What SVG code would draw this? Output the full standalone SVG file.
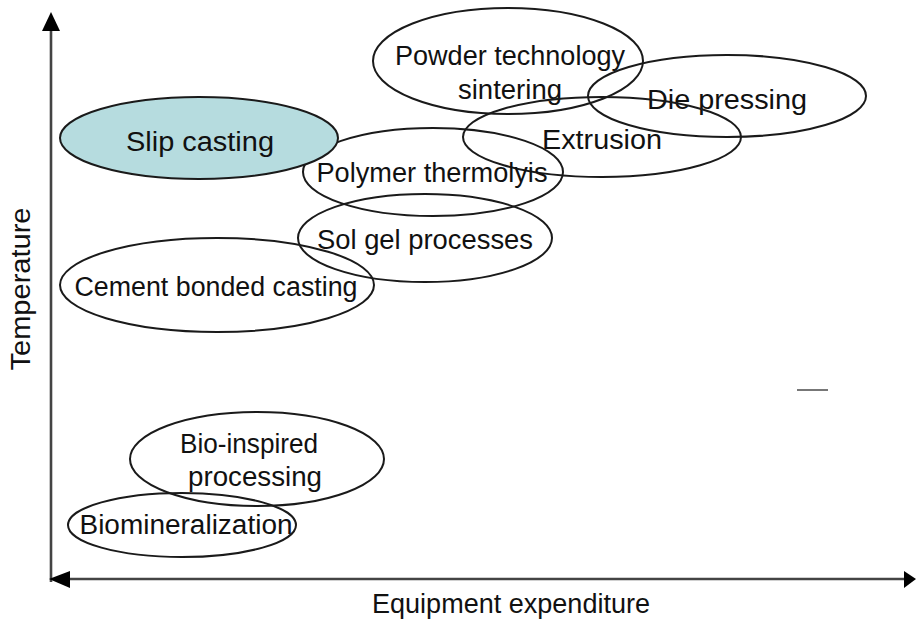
<svg xmlns="http://www.w3.org/2000/svg" width="916" height="624" viewBox="0 0 916 624">
  <style>
    .oval { fill: none; stroke: #1a1a1a; stroke-width: 2; }
    .oval-fill { fill: #b6dcdf; stroke: #1a1a1a; stroke-width: 2; }
    .lbl { font-family: "Liberation Sans", Arial, sans-serif; font-size: 27px; fill: #111; text-anchor: middle; }
    .axis { stroke: #444; stroke-width: 2.6; fill: none; }
    .head { fill: #000; }
  </style>
  <rect width="916" height="624" fill="#fff"/>

  <!-- axes -->
  <g id="axes">
    <line class="axis" x1="51" y1="28" x2="51" y2="582"/>
    <line class="axis" x1="66" y1="579" x2="906" y2="579"/>
    <polygon class="head" points="51,12 42,31 60,31"/>
    <polygon class="head" points="49,579 70,571 70,588"/>
    <polygon class="head" points="916,579 904,571 904,588"/>
    <line x1="797" y1="390" x2="828" y2="390" stroke="#777" stroke-width="2"/>
    <text class="lbl" x="511" y="613" font-size="25" textLength="278" lengthAdjust="spacingAndGlyphs">Equipment expenditure</text>
    <text class="lbl" transform="translate(30,289) rotate(-90)" font-size="25" textLength="163" lengthAdjust="spacingAndGlyphs">Temperature</text>
  </g>

  <!-- process regions -->
  <g id="powder-technology">
    <ellipse class="oval" cx="508" cy="61" rx="135" ry="53"/>
    <text class="lbl" x="510" y="65" textLength="230" lengthAdjust="spacingAndGlyphs">Powder technology</text>
    <text class="lbl" x="510" y="99" textLength="104" lengthAdjust="spacingAndGlyphs">sintering</text>
  </g>
  <g id="die-pressing">
    <ellipse class="oval" cx="727" cy="96" rx="139" ry="41"/>
    <text class="lbl" x="727" y="109" textLength="160" lengthAdjust="spacingAndGlyphs">Die pressing</text>
  </g>
  <g id="extrusion">
    <ellipse class="oval" cx="602" cy="137" rx="139" ry="40"/>
    <text class="lbl" x="602" y="149" textLength="120" lengthAdjust="spacingAndGlyphs">Extrusion</text>
  </g>
  <g id="polymer-thermolysis">
    <ellipse class="oval" cx="433" cy="172" rx="130" ry="44"/>
    <text class="lbl" x="432" y="182" textLength="231" lengthAdjust="spacingAndGlyphs">Polymer thermolyis</text>
  </g>
  <g id="slip-casting">
    <ellipse class="oval-fill" cx="199" cy="138" rx="139" ry="41"/>
    <text class="lbl" x="200" y="151" font-size="29" textLength="148" lengthAdjust="spacingAndGlyphs">Slip casting</text>
  </g>
  <g id="sol-gel">
    <ellipse class="oval" cx="425" cy="238" rx="127" ry="44"/>
    <text class="lbl" x="425" y="249" textLength="216" lengthAdjust="spacingAndGlyphs">Sol gel processes</text>
  </g>
  <g id="cement-bonded-casting">
    <ellipse class="oval" cx="217" cy="285" rx="157" ry="47"/>
    <text class="lbl" x="216" y="296" textLength="283" lengthAdjust="spacingAndGlyphs">Cement bonded casting</text>
  </g>
  <g id="bio-inspired">
    <ellipse class="oval" cx="257" cy="459" rx="127" ry="47"/>
    <text class="lbl" x="249" y="453" textLength="138" lengthAdjust="spacingAndGlyphs">Bio-inspired</text>
    <text class="lbl" x="255" y="486" textLength="134" lengthAdjust="spacingAndGlyphs">processing</text>
  </g>
  <g id="biomineralization">
    <ellipse class="oval" cx="182" cy="525" rx="114" ry="32"/>
    <text class="lbl" x="186" y="534" textLength="213" lengthAdjust="spacingAndGlyphs">Biomineralization</text>
  </g>
</svg>
